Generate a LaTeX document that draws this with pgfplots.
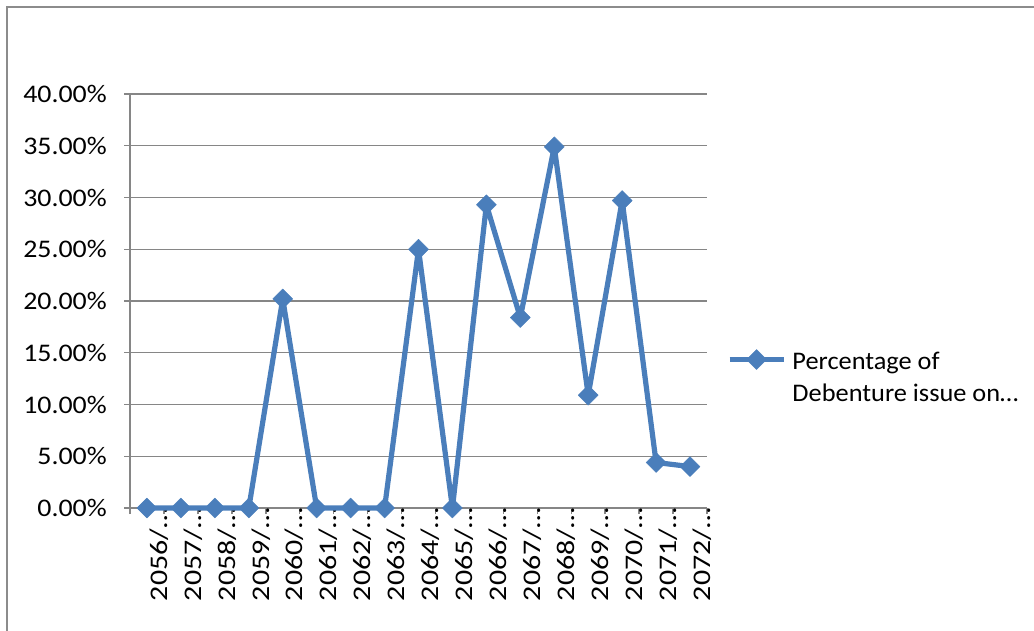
\documentclass[border=0pt]{standalone}
\usepackage{pgfplots}
\pgfplotsset{compat=1.18}
\usepackage{fontspec}
\setmainfont{Carlito}
\newfontfamily\tickfont[FakeStretch=1.18]{Carlito}
\newfontfamily\ytickfont[FakeStretch=1.1]{Carlito}
\newfontfamily\legfont[FakeStretch=1.04]{Carlito}
\definecolor{ser}{HTML}{4A7EBB}
\definecolor{gridc}{HTML}{868686}
\definecolor{framec}{HTML}{8C8C8C}
\begin{document}
\begin{tikzpicture}
\useasboundingbox (0,0) rectangle (775.5pt,-473.25pt);
\draw[framec, line width=1.6pt] (5.4pt,-474pt) -- (5.4pt,-5.4pt) -- (776pt,-5.4pt);
\begin{axis}[
  at={(97.5pt,-381pt)}, anchor=south west,
  scale only axis, width=432.75pt, height=310.5pt,
  xmin=-0.5, xmax=16.5, ymin=0, ymax=40,
  clip=false,
  axis x line*=bottom, axis y line*=left,
  axis line style={gridc, line width=1.1pt, -},
  xtick={0,...,16},
  xticklabels={2056/…,2057/…,2058/…,2059/…,2060/…,2061/…,2062/…,2063/…,2064/…,2065/…,2066/…,2067/…,2068/…,2069/…,2070/…,2071/…,2072/…},
  minor xtick={-0.5,0.5,...,16.5},
  ytick={0,5,...,40}, minor ytick={0,5,...,40},
  yticklabel={\pgfmathprintnumber[fixed,fixed zerofill,precision=2,assume math mode=true]{\tick}\%},
  ymajorgrids, major grid style={gridc, line width=1.1pt},
  major tick length=0pt, minor tick length=4.5pt, tick align=outside,
  minor tick style={gridc, line width=1.1pt},
  tick label style={inner sep=0pt},
  yticklabel style={font=\ytickfont\fontsize{19}{23}\selectfont, anchor=east, xshift=-17.25pt},
  xticklabel style={font=\tickfont\fontsize{19}{23}\selectfont, rotate=90, anchor=east, yshift=-9pt},
  legend style={at={(1.0341,0.3916)}, anchor=north west, draw=none, fill=none,
    inner sep=0pt, row sep=4pt, column sep=3.5pt,
    nodes={inner sep=1.25pt, font=\legfont\fontsize{19}{23}\selectfont}},
  legend cell align=left,
  legend image code/.code={\draw[mark repeat=2,mark phase=2,#1] plot coordinates {(0pt,0pt)(20.25pt,0pt)(40.5pt,0pt)};},
]
\addplot[ser, line width=3.9pt, line join=round, mark=square*,
  mark size=5.3pt, mark options={solid, fill=ser, draw=ser, line width=0.3pt, rotate=45}]
  coordinates {(0,0)(1,0)(2,0)(3,0)(4,20.2)(5,0)(6,0)(7,0)(8,25.0)(9,0)(10,29.3)(11,18.4)(12,34.9)(13,10.9)(14,29.7)(15,4.4)(16,4.0)};
\addlegendentry{\strut Percentage of}
\addlegendimage{empty legend}
\addlegendentry{\strut Debenture issue on…}
\end{axis}
\end{tikzpicture}
\end{document}
